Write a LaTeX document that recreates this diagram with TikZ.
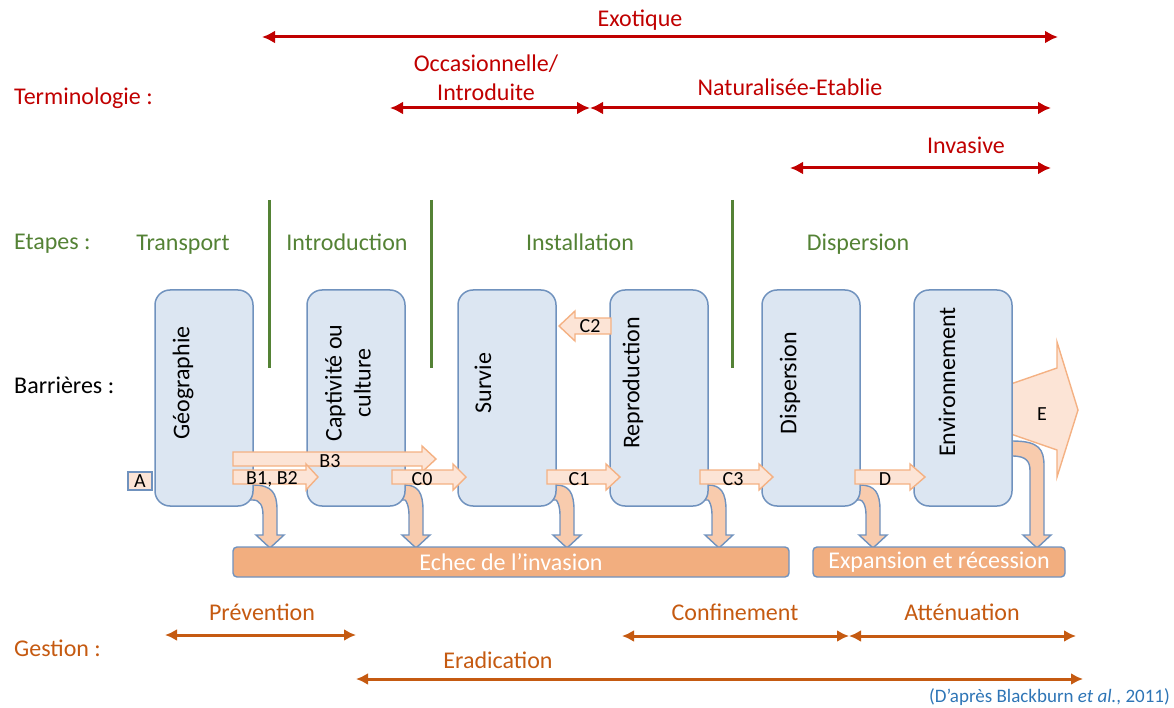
\documentclass[tikz,border=0pt]{standalone}
\usepackage{fontspec}
\setmainfont{Carlito}
\usetikzlibrary{arrows.meta}
\definecolor{tred}{RGB}{192,0,0}
\definecolor{tgreen}{RGB}{84,130,53}
\definecolor{torange}{RGB}{197,90,17}
\definecolor{tblue}{RGB}{46,117,182}
\definecolor{boxfill}{RGB}{220,230,242}
\definecolor{boxline}{RGB}{112,146,190}
\definecolor{pfill}{RGB}{252,228,214}
\definecolor{pline}{RGB}{244,177,131}
\definecolor{dfill}{RGB}{248,203,173}
\definecolor{barfill}{RGB}{242,174,127}
\newcommand\rblk[6]{% x1, tip x, y centre, half body, half head, head length
  \draw[blk] (#1,#3-#4) -- (#2-#6,#3-#4) -- (#2-#6,#3-#5) -- (#2,#3) -- (#2-#6,#3+#5) -- (#2-#6,#3+#4) -- (#1,#3+#4) -- cycle;}
\newcommand\lblk[6]{% x1 (right end), tip x, y centre, half body, half head, head length
  \draw[blk] (#1,#3-#4) -- (#2+#6,#3-#4) -- (#2+#6,#3-#5) -- (#2,#3) -- (#2+#6,#3+#5) -- (#2+#6,#3+#4) -- (#1,#3+#4) -- cycle;}
\newcommand\dnarr[3]{% box right x, top y, shaft centre x
  \draw[dn] (#1-12,#2) -- (#1,#2) .. controls (#3+2,#2) and (#3+7,#2+8) .. (#3+7,#2+25) -- (#3+7,535) -- (#3+14,535) -- (#3,548) -- (#3-14,535) -- (#3-7,535) -- (#3-7,#2+30) .. controls (#3-7,#2+21) and (#3-10,#2+15) .. (#1,#2+15) -- (#1-12,#2+15) -- cycle;}
\tikzset{
  big/.style={font=\fontsize{24}{29}\selectfont, inner sep=0pt},
  small/.style={font=\fontsize{20}{24}\selectfont, inner sep=0pt},
  barbox/.style={draw=boxline, fill=boxfill, line width=1.5pt, rounded corners=15pt, minimum width=98pt, minimum height=216pt, inner sep=0pt},
  boxtext/.style={big, rotate=90, align=center},
  blk/.style={draw=pline, fill=pfill, line width=1.4pt, line join=miter},
  dn/.style={draw=boxline, fill=dfill, line width=1.4pt},
  bar/.style={draw=boxline, fill=barfill, line width=1.4pt, rounded corners=4pt, minimum height=30pt, inner sep=0pt, text=white, font=\fontsize{24}{28}\selectfont},
  rarr/.style={draw=tred, line width=3pt, {Latex[length=13pt,width=13pt]}-{Latex[length=13pt,width=13pt]}},
  oarr/.style={draw=torange, line width=3pt, {Latex[length=12pt,width=12pt]}-{Latex[length=12pt,width=12pt]}},
  gline/.style={draw=tgreen, line width=3pt},
}
\begin{document}
\begin{tikzpicture}[x=1pt,y=-1pt]
\useasboundingbox (0,0) rectangle (1174,708);
% Terminology
\node[big, text=tred, anchor=base west] (term) at (14,105) {Terminologie :};
\node[big, text=tred, anchor=base] (exo) at (640,27) {Exotique};
\coordinate (exL) at (262,37); \coordinate (exR) at (1058,37);
\draw[rarr] (exL) -- (exR);
\node[big, text=tred, align=center] (occ) at (486,78) {Occasionnelle/\\Introduite};
\coordinate (ocL) at (390,108); \coordinate (ocR) at (590,108);
\draw[rarr] (ocL) -- (ocR);
\node[big, text=tred, anchor=base] (nat) at (790,96) {Naturalisée-Etablie};
\coordinate (naL) at (590,108); \coordinate (naR) at (1051,108);
\draw[rarr] (naL) -- (naR);
\node[big, text=tred, anchor=base] (inv) at (966,154) {Invasive};
\coordinate (inL) at (790,168); \coordinate (inR) at (1051,168);
\draw[rarr] (inL) -- (inR);
% Stages
\node[big, text=tgreen, anchor=base west] (eta) at (14,250) {Etapes :};
\node[big, text=tgreen, anchor=base] (s1) at (183,251) {Transport};
\node[big, text=tgreen, anchor=base] (s2) at (347,251) {Introduction};
\node[big, text=tgreen, anchor=base] (s3) at (580,251) {Installation};
\node[big, text=tgreen, anchor=base] (s4) at (858,251) {Dispersion};
\coordinate (g1a) at (269,200); \coordinate (g1b) at (269,368);
\coordinate (g2a) at (431,200); \coordinate (g2b) at (431,368);
\coordinate (g3a) at (732,200); \coordinate (g3b) at (732,368);
\draw[gline] (g1a) -- (g1b);
\draw[gline] (g2a) -- (g2b);
\draw[gline] (g3a) -- (g3b);
% Barriers
\node[big, anchor=base west] (bar) at (14,393) {Barrières :};
% E arrow
\draw[blk] (1005,386) -- (1057,368) -- (1057,342) -- (1078,410) -- (1057,477) -- (1057,450) -- (1005,432) -- cycle;
\node[small] (lE) at (1042,414) {E};
% down arrows
\dnarr{253}{485}{270}
\dnarr{405}{485}{416}
\dnarr{556}{485}{567}
\dnarr{708}{485}{719}
\dnarr{860}{485}{873}
\dnarr{1012}{441}{1037}
% boxes
\node[barbox] (b1) at (204,398) {};
\node[barbox] (b2) at (356,398) {};
\node[barbox] (b3) at (507,398) {};
\node[barbox] (b4) at (659,398) {};
\node[barbox] (b5) at (811,398) {};
\node[barbox] (b6) at (963,398) {};
\node[boxtext] (t1) at (183,383) {Géographie};
\node[boxtext] (t2) at (348,383) {Captivité ou\\culture};
\node[boxtext] (t3) at (483,383) {Survie};
\node[boxtext] (t4) at (633,383) {Reproduction};
\node[boxtext] (t5) at (790,383) {Dispersion};
\node[boxtext] (t6) at (947,382) {Environnement};
% small block arrows
\node[draw=boxline, fill=pfill, line width=1.2pt, minimum width=24pt, minimum height=18pt, inner sep=0pt, small] (lA) at (140,481) {A};
\rblk{233}{436}{459}{7}{13}{14}
\node[small] (lB3) at (330,461) {B3};
\rblk{233}{318}{477}{7}{13}{12}
\node[small] (lB12) at (272,479) {B1, B2};
\rblk{392}{466}{477}{7}{13}{13}
\node[small] (lC0) at (422,479) {C0};
\rblk{547}{620}{477}{7}{13}{14}
\node[small] (lC1) at (579,479) {C1};
\rblk{700}{773}{477}{7}{13}{14}
\node[small] (lC3) at (733,479) {C3};
\rblk{855}{925}{477}{7}{13}{15}
\node[small] (lD) at (885,479) {D};
\lblk{611}{559}{326}{8}{15}{16}
\node[small] (lC2) at (590,326) {C2};
% bars
\node[bar, minimum width=556pt] (echec) at (511,562) {Echec de l’invasion};
\node[bar, minimum width=252pt] (expa) at (939,562) {Expansion et récession};
% Management
\node[big, text=torange, anchor=base west] (ges) at (14,656) {Gestion :};
\node[big, text=torange, anchor=base] (m1) at (262,620) {Prévention};
\coordinate (prL) at (165,635); \coordinate (prR) at (356,635);
\draw[oarr] (prL) -- (prR);
\node[big, text=torange, anchor=base] (m2) at (735,620) {Confinement};
\coordinate (coL) at (622,636); \coordinate (coR) at (849,636);
\draw[oarr] (coL) -- (coR);
\node[big, text=torange, anchor=base] (m3) at (962,620) {Atténuation};
\coordinate (atL) at (849,636); \coordinate (atR) at (1076,636);
\draw[oarr] (atL) -- (atR);
\node[big, text=torange, anchor=base] (m4) at (498,668) {Eradication};
\coordinate (erL) at (356,679); \coordinate (erR) at (1083,679);
\draw[oarr] (erL) -- (erR);
\node[text=tblue, anchor=east, inner sep=0pt, font=\fontsize{19}{22}\selectfont] (cite) at (1170,697) {(D’après Blackburn \textit{et al.}, 2011)};
\end{tikzpicture}
\end{document}
